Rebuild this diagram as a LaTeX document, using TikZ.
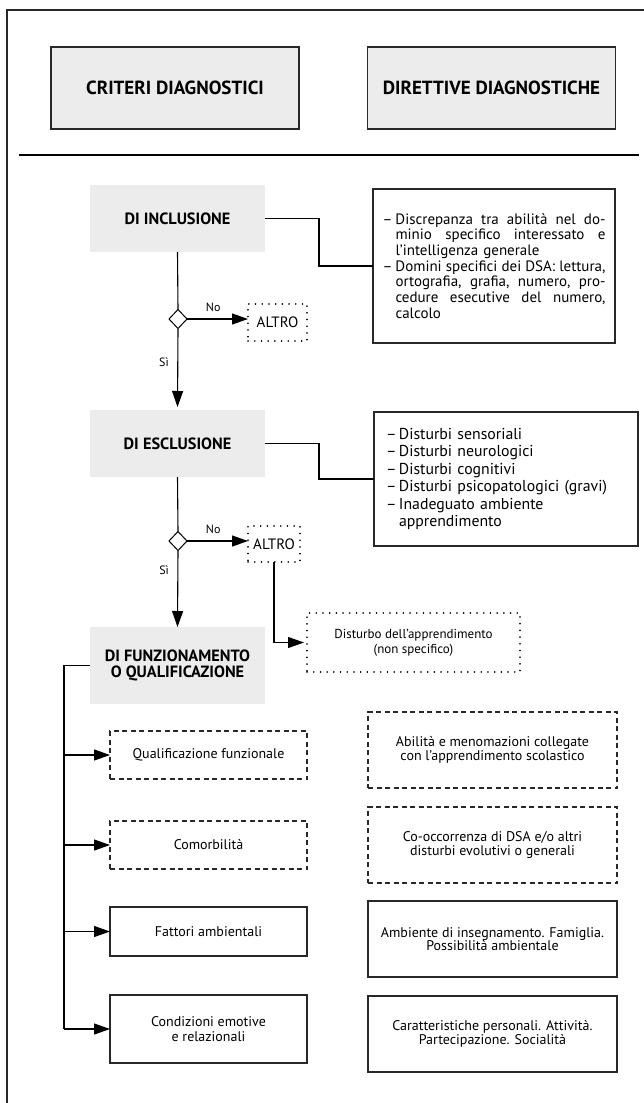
\documentclass[tikz,border=0pt]{standalone}
\usepackage{fontspec}
\setmainfont{PT Sans}
\usetikzlibrary{arrows.meta,shapes.geometric,calc}
\definecolor{boxgray}{RGB}{236,236,236}
\definecolor{edge}{RGB}{40,40,40}
\newcommand\itemdash{\makebox[13pt][l]{–}}
\newcommand\itemind{\hspace*{13pt}}
\newcommand\jline[1]{\hbox to 210pt{\spaceskip=0pt\xspaceskip=0pt #1}}
\begin{document}
\begin{tikzpicture}[x=1pt,y=-1pt,
  every node/.style={inner sep=0pt, outer sep=0pt},
  hdr/.style={draw=edge, line width=1.1pt, fill=boxgray, minimum width=248pt, minimum height=82pt, font=\bfseries\fontsize{19}{21}\selectfont},
  crit/.style={fill=boxgray, minimum width=175pt, align=center, font=\bfseries\fontsize{16.3}{16}\selectfont},
  desc/.style={draw=edge, line width=1.1pt, align=left},
  conn/.style={line width=1.1pt, draw=black},
  arr/.style={conn, -{Triangle[length=16pt,width=11pt]}},
  dec/.style={diamond, draw, line width=1pt, fill=white, minimum width=18pt, minimum height=19pt, inner sep=0pt},
  dotbox/.style={draw, line width=1.6pt, dash pattern=on 0.1pt off 6.6pt, line cap=round, align=center},
  dashbox/.style={draw=edge, line width=1.1pt, dash pattern=on 5pt off 3.5pt, align=center, font=\fontsize{14}{13.5}\selectfont},
  solbox/.style={draw=edge, line width=1.1pt, align=center, font=\fontsize{14}{13.5}\selectfont},
  lbl/.style={font=\fontsize{12}{13}\selectfont}
]
\useasboundingbox (0,0) rectangle (644,1103);
% frame
\draw[line width=1.2pt, draw=edge] (644,10) -- (7,10) -- (7,1103);
\draw[line width=1.4pt] (19,155) -- (639,155);
% headers
\node[hdr] (h1) at (175,88) {CRITERI DIAGNOSTICI};
\node[hdr] (h2) at (491.5,88) {DIRETTIVE DIAGNOSTICHE};
% inclusione
\node[crit, minimum height=67pt] (incl) at (177.5,218.5) {DI INCLUSIONE};
\node[desc, minimum width=242pt, minimum height=154pt, text width=223pt, font=\fontsize{15}{15.67}\selectfont] (idesc) at (494,266) {%
\itemdash\jline{Discrepanza tra abilità nel do-}\\
\itemind\jline{minio specifico interessato e}\\
\itemind l’intelligenza generale\\
\itemdash\jline{Domini specifici dei DSA: lettura,}\\
\itemind\jline{ortografia, grafia, numero, pro-}\\
\itemind\jline{cedure esecutive del numero,}\\
\itemind calcolo};
\node[dec] (d1) at (178,319) {};
\node[dotbox, minimum width=59pt, minimum height=37pt, font=\fontsize{15}{16}\selectfont] (altro1) at (277.5,322.5) {ALTRO};
% esclusione
\node[crit, minimum height=67pt] (escl) at (177.5,443.5) {DI ESCLUSIONE};
\node[desc, minimum width=264pt, minimum height=134pt, text width=240pt, font=\fontsize{15.8}{17.4}\selectfont] (edesc) at (506,479) {%
\itemdash Disturbi sensoriali\\
\itemdash Disturbi neurologici\\
\itemdash Disturbi cognitivi\\
\itemdash Disturbi psicopatologici (gravi)\\
\itemdash Inadeguato ambiente\\
\itemind apprendimento};
\node[dec] (d2) at (178,541) {};
\node[dotbox, minimum width=52pt, minimum height=36pt, font=\fontsize{15}{16}\selectfont] (altro2) at (274,544) {ALTRO};
% funzionamento
\node[crit, minimum height=77pt] (funz) at (177.5,665.5) {DI FUNZIONAMENTO\\O QUALIFICAZIONE};
\node[dotbox, minimum width=213pt, minimum height=59pt, font=\fontsize{13}{15}\selectfont] (dist) at (413.5,642.5) {Disturbo dell’apprendimento\\(non specifico)};
\node[dashbox, minimum width=197pt, minimum height=48pt] (qual) at (208.5,755) {Qualificazione funzionale};
\node[dashbox, minimum width=197pt, minimum height=48pt] (comor) at (208.5,845) {Comorbilità};
\node[solbox, minimum width=197pt, minimum height=49pt] (fatt) at (208.5,931.5) {Fattori ambientali};
\node[solbox, minimum width=197pt, minimum height=68pt, font=\fontsize{14}{15}\selectfont] (cond) at (208.5,1029) {Condizioni emotive\\e relazionali};
\node[dashbox, minimum width=249pt, minimum height=76pt] (abil) at (492.5,750) {Abilità e menomazioni collegate\\con l’apprendimento scolastico};
\node[dashbox, minimum width=249pt, minimum height=76pt] (cooc) at (492.5,845) {Co-occorrenza di DSA e/o altri\\disturbi evolutivi o generali};
\node[solbox, minimum width=249pt, minimum height=76pt] (amb) at (492.5,939) {Ambiente di insegnamento. Famiglia.\\Possibilità ambientale};
\node[solbox, minimum width=249pt, minimum height=76pt] (car) at (492.5,1034) {Caratteristiche personali. Attività.\\Partecipazione. Socialità};
% connectors
\draw[conn] (incl.east) -- ++(54,0) |- (idesc.west);
\draw[conn] (escl.east) -- ++(54,0) |- (edesc.west);
\draw[conn] (incl.south) -- (d1.north);
\draw[arr] (d1.east) -- node[lbl, above=7pt, pos=0.43]{No} (d1.east -| altro1.west);
\draw[arr, shorten >=3pt] (d1.south) -- node[lbl, left=9pt, pos=0.41]{Sì} (escl.north);
\draw[conn] (escl.south) -- (d2.north);
\draw[arr] (d2.east) -- node[lbl, above=7pt, pos=0.43]{No} (d2.east -| altro2.west);
\draw[arr] (d2.south) -- node[lbl, left=9pt, pos=0.26]{Sì} (funz.north);
\draw[arr, shorten >=3pt] (altro2.south) |- (dist.west);
\draw[conn] (funz.west) -- ++(-26,0) coordinate (tr) -- (tr |- cond.west);
\draw[arr] (tr |- qual.west) -- (qual.west);
\draw[arr] (tr |- comor.west) -- (comor.west);
\draw[arr] (tr |- fatt.west) -- (fatt.west);
\draw[arr] (tr |- cond.west) -- (cond.west);
\end{tikzpicture}
\end{document}
